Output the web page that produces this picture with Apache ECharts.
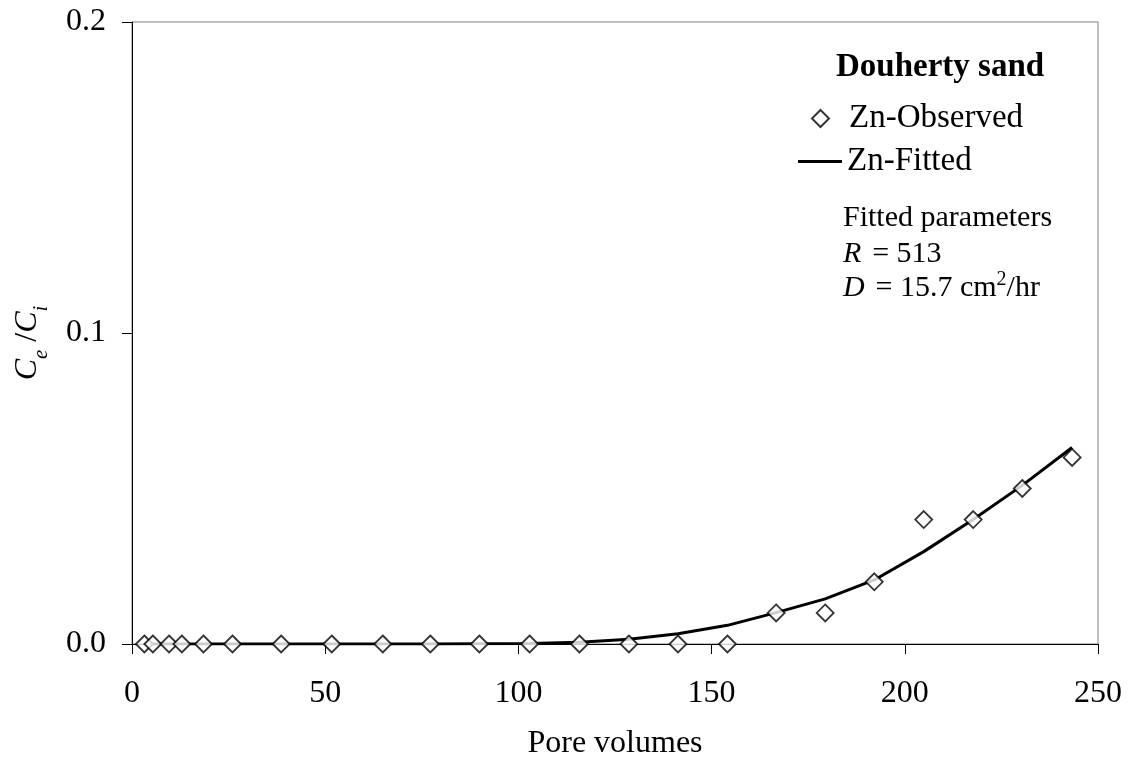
<!DOCTYPE html>
<html>
<head>
<meta charset="utf-8">
<title>Zn breakthrough – Douherty sand</title>
<script src="https://cdn.jsdelivr.net/npm/echarts@6/dist/echarts.min.js"></script>
<style>
  html, body { margin: 0; padding: 0; background: #fff; }
  #chart { width: 1134px; height: 759px; }
</style>
</head>
<body>
<div id="chart"></div>
<script>
// Pore volumes at which effluent samples were taken
const poreVolumes = [3.2, 5.4, 9.6, 12.9, 18.5, 26.0, 38.6, 51.7, 64.9, 77.2, 89.9,
  102.9, 115.8, 128.6, 141.3, 154.1, 166.7, 179.4, 192.1, 204.9, 217.7, 230.4, 243.3];
// Measured relative concentration Ce/Ci
const observed = [0, 0, 0, 0, 0, 0, 0, 0, 0, 0, 0,
  0, 0, 0, 0, 0, 0.01, 0.01, 0.02, 0.04, 0.04, 0.05, 0.06];
// Model curve (R = 513, D = 15.7 cm2/hr)
const fitted = [0, 0, 0, 0, 0, 0, 0, 0, 0, 0, 0.0001,
  0.0002, 0.0006, 0.0015, 0.0033, 0.006, 0.0101, 0.0145, 0.0206, 0.0297, 0.040, 0.051, 0.0632];
const xTicks = [0, 50, 100, 150, 200, 250];
const yTicks = [0.0, 0.1, 0.2];

const FONT = "'Liberation Serif', 'Times New Roman', serif";

const chart = echarts.init(document.getElementById('chart'), null, { renderer: 'canvas' });

const obsPairs = poreVolumes.map((x, i) => [x, observed[i]]);
const fitPairs = poreVolumes.map((x, i) => [x, fitted[i]]);

chart.setOption({
  backgroundColor: '#fff',
  animation: false,
  textStyle: { fontFamily: FONT, color: '#000' },
  grid: {
    left: 132, right: 36, top: 22, bottom: 115,
    outerBoundsMode: 'none',
    containLabel: false,
    show: true, borderColor: '#808080', borderWidth: 1, backgroundColor: 'transparent'
  },
  xAxis: [{
    type: 'value',
    min: xTicks[0], max: xTicks[xTicks.length - 1], interval: 50,
    name: 'Pore volumes',
    nameLocation: 'middle',
    nameGap: 84,
    nameTextStyle: { fontFamily: FONT, fontSize: 32, color: '#000' },
    axisLine: { show: true, onZero: false, lineStyle: { color: '#000', width: 1 } },
    axisTick: { show: true, inside: false, length: 10, lineStyle: { color: '#000', width: 1 } },
    axisLabel: { margin: 34, fontFamily: FONT, fontSize: 32, color: '#000' },
    splitLine: { show: false }
  }, {
    // top frame line
    type: 'value', position: 'top',
    min: xTicks[0], max: xTicks[xTicks.length - 1],
    axisLine: { show: true, lineStyle: { color: '#000', width: 1 } },
    axisTick: { show: false }, axisLabel: { show: false }, splitLine: { show: false }
  }],
  yAxis: {
    type: 'value',
    min: yTicks[0], max: yTicks[yTicks.length - 1], interval: 0.1,
    name: '{i|C}{sub|e}{n| /}{i|C}{sub|i}',
    nameLocation: 'middle',
    nameRotate: 90,
    nameGap: 80,
    nameTextStyle: {
      fontFamily: FONT, color: '#000',
      padding: [0, 20, 0, 0],
      rich: {
        i: { fontFamily: FONT, fontStyle: 'italic', fontSize: 32, lineHeight: 32, verticalAlign: 'bottom', padding: [0, 0, 8, 0] },
        n: { fontFamily: FONT, fontSize: 32, lineHeight: 32, verticalAlign: 'bottom', padding: [0, 0, 8, 0] },
        sub: { fontFamily: FONT, fontStyle: 'italic', fontSize: 21, lineHeight: 21, verticalAlign: 'bottom' }
      }
    },
    axisLine: { show: true, onZero: false, lineStyle: { color: '#000', width: 1 } },
    axisTick: { show: true, inside: false, length: 10, lineStyle: { color: '#000', width: 1 } },
    axisLabel: {
      margin: 26, fontFamily: FONT, fontSize: 32, color: '#000',
      formatter: v => v.toFixed(1)
    },
    splitLine: { show: false }
  },
  legend: [{
    left: 811, top: 102, padding: 0,
    itemWidth: 17, itemHeight: 17,
    symbolKeepAspect: true,
    textStyle: { fontFamily: FONT, fontSize: 33, color: '#000', padding: [0, 0, 0, 15] },
    data: [{ name: 'Zn-Observed', icon: 'diamond' }]
  }, {
    left: 798, top: 145, padding: 0,
    itemWidth: 44, itemHeight: 3,
    textStyle: { fontFamily: FONT, fontSize: 33, color: '#000' },
    data: [{ name: 'Zn-Fitted', icon: 'rect', itemStyle: { color: '#000' } }]
  }],
  graphic: [
    {
      type: 'text', left: 836, top: 51,
      style: { text: 'Douherty sand', font: "bold 33px 'Liberation Serif', serif", fill: '#000' }
    },
    {
      type: 'text', left: 843, top: 203,
      style: { text: 'Fitted parameters', font: "30px 'Liberation Serif', serif", fill: '#000' }
    },
    {
      type: 'text', left: 843, top: 239,
      style: {
        text: '{i|R} {n| = 513}',
        rich: {
          i: { font: "italic 30px 'Liberation Serif', serif", fill: '#000' },
          n: { font: "30px 'Liberation Serif', serif", fill: '#000' }
        }
      }
    },
    {
      type: 'text', left: 843, top: 263,
      style: {
        text: '{i|D} {n| = 15.7 cm}{sup|2}{n|/hr}',
        rich: {
          i: { font: "italic 30px 'Liberation Serif', serif", fill: '#000', lineHeight: 40, verticalAlign: 'bottom' },
          n: { font: "30px 'Liberation Serif', serif", fill: '#000', lineHeight: 40, verticalAlign: 'bottom' },
          sup: { font: "20px 'Liberation Serif', serif", fill: '#000', lineHeight: 20, verticalAlign: 'top', padding: [7, 0, 0, 0] }
        }
      }
    }
  ],
  series: [
    {
      name: 'Zn-Fitted',
      type: 'line',
      data: fitPairs,
      showSymbol: false,
      symbol: 'none',
      smooth: false,
      lineStyle: { color: '#000', width: 3 },
      itemStyle: { color: '#000' },
      z: 2
    },
    {
      name: 'Zn-Observed',
      type: 'scatter',
      data: obsPairs,
      symbol: 'diamond',
      symbolSize: 17,
      itemStyle: { color: '#fff', borderColor: '#000', borderWidth: 1.8 },
      z: 3
    }
  ]
});
</script>
</body>
</html>
